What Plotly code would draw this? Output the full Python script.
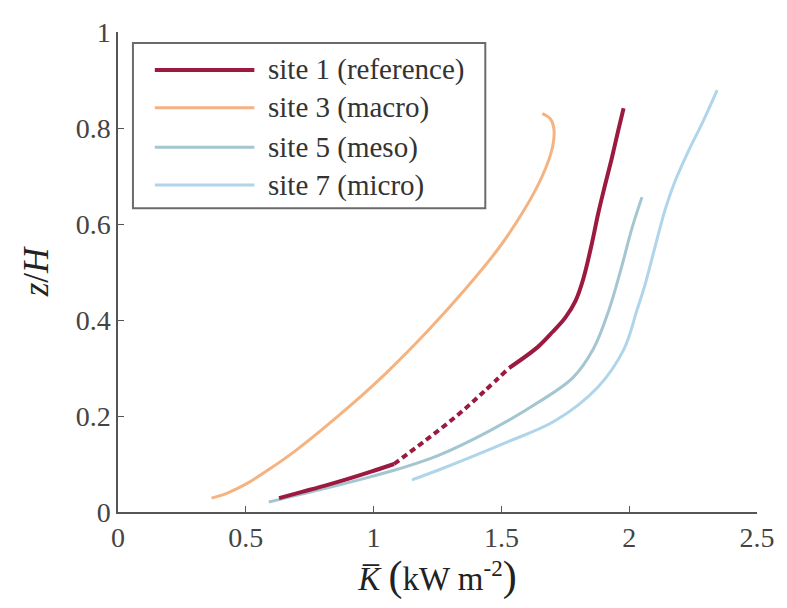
import plotly.graph_objects as go

# ---- data ----
site1_low_x = [0.63, 0.72, 0.81, 0.90, 0.99, 1.08]
site1_low_y = [0.029, 0.042, 0.055, 0.069, 0.084, 0.100]
site1_mid_x = [1.08, 1.20, 1.32, 1.43, 1.53]
site1_mid_y = [0.100, 0.148, 0.198, 0.250, 0.300]
site1_high_x = [1.53, 1.643, 1.70, 1.75, 1.79, 1.82, 1.85, 1.88, 1.905, 1.93, 1.955, 1.978]
site1_high_y = [0.300, 0.344, 0.375, 0.405, 0.440, 0.485, 0.550, 0.625, 0.680, 0.733, 0.790, 0.841]

site3_x = [0.366, 0.43, 0.50, 0.60, 0.70, 0.903, 1.05, 1.215, 1.36, 1.49, 1.59, 1.66, 1.70, 1.705, 1.69, 1.66]
site3_y = [0.029, 0.040, 0.058, 0.092, 0.13, 0.219, 0.29, 0.379, 0.465, 0.55, 0.63, 0.70, 0.76, 0.80, 0.82, 0.83]

site5_x = [0.59, 0.78, 0.95, 1.10, 1.254, 1.45, 1.643, 1.78, 1.86, 1.92, 1.97, 2.01, 2.05]
site5_y = [0.021, 0.045, 0.068, 0.09, 0.118, 0.168, 0.228, 0.28, 0.34, 0.42, 0.51, 0.59, 0.656]

site7_x = [1.15, 1.254, 1.51, 1.71, 1.877, 1.98, 2.03, 2.06, 2.10, 2.14, 2.18, 2.23, 2.29, 2.344]
site7_y = [0.067, 0.0875, 0.143, 0.19, 0.26, 0.34, 0.42, 0.47, 0.55, 0.629, 0.69, 0.75, 0.815, 0.879]

legend_labels = ["site 1 (reference)", "site 3 (macro)", "site 5 (meso)", "site 7 (micro)"]
colors = ["#9c1a3f", "#f4b381", "#a3c6d0", "#b0d5ea"]
widths = [4, 3, 3, 3]

x_ticks = [0, 0.5, 1, 1.5, 2, 2.5]
x_ticklabels = ["0", "0.5", "1", "1.5", "2", "2.5"]
y_ticks = [0, 0.2, 0.4, 0.6, 0.8, 1]
y_ticklabels = ["0", "0.2", "0.4", "0.6", "0.8", "1"]

FONT = "Liberation Serif, Times New Roman, serif"

fig = go.Figure()
fig.add_trace(go.Scatter(x=site3_x, y=site3_y, mode="lines", line=dict(color=colors[1], width=widths[1], shape="spline", smoothing=1), showlegend=False))
fig.add_trace(go.Scatter(x=site5_x, y=site5_y, mode="lines", line=dict(color=colors[2], width=widths[2], shape="spline", smoothing=1), showlegend=False))
fig.add_trace(go.Scatter(x=site7_x, y=site7_y, mode="lines", line=dict(color=colors[3], width=widths[3], shape="spline", smoothing=1), showlegend=False))
fig.add_trace(go.Scatter(x=site1_low_x, y=site1_low_y, mode="lines", line=dict(color=colors[0], width=widths[0], shape="spline"), showlegend=False))
fig.add_trace(go.Scatter(x=site1_mid_x, y=site1_mid_y, mode="lines", line=dict(color=colors[0], width=widths[0], shape="spline", dash="6px,4px"), showlegend=False))
fig.add_trace(go.Scatter(x=site1_high_x, y=site1_high_y, mode="lines", line=dict(color=colors[0], width=widths[0], shape="spline", smoothing=1), showlegend=False))

# custom legend (box, line samples, labels) in paper coordinates
fig.add_shape(type="rect", xref="paper", yref="paper", x0=0.0234, x1=0.5748, y0=0.633, y1=0.977,
              line=dict(color="#6b6b6b", width=2), fillcolor="white", layer="below")
leg_y = [0.921, 0.842, 0.760, 0.681]
for lab, c, w, yy in zip(legend_labels, colors, widths, leg_y):
    fig.add_shape(type="line", xref="paper", yref="paper", x0=0.0576, x1=0.2134, y0=yy, y1=yy,
                  line=dict(color=c, width=w))
    fig.add_annotation(xref="paper", yref="paper", x=0.232, y=yy, text=lab, showarrow=False,
                       xanchor="left", yanchor="middle", font=dict(family=FONT, size=29, color="#333333"))

axis_common = dict(showline=True, linecolor="#555555", linewidth=1.5, ticks="inside", ticklen=6,
                   tickcolor="#555555", showgrid=False, zeroline=False, mirror=False,
                   tickfont=dict(family=FONT, size=28, color="#444444"))

fig.update_layout(
    width=787, height=608,
    margin=dict(l=118, r=27, t=32, b=96),
    paper_bgcolor="white", plot_bgcolor="white",
    xaxis=dict(range=[0, 2.5], tickvals=x_ticks, ticktext=x_ticklabels,
               title=dict(text="<i>K\u0305</i> <span style='font-size:42px'>(</span>kW m<sup>-2</sup><span style='font-size:42px'>)</span>",
                          font=dict(family=FONT, size=33, color="#222222"), standoff=6),
               **axis_common),
    yaxis=dict(range=[0, 1], tickvals=y_ticks, ticktext=y_ticklabels,
               title=dict(text="<i>z</i>/<i>H</i>", font=dict(family=FONT, size=35, color="#222222"), standoff=16),
               **axis_common),
    showlegend=False,
)

fig.write_html("out.html")
